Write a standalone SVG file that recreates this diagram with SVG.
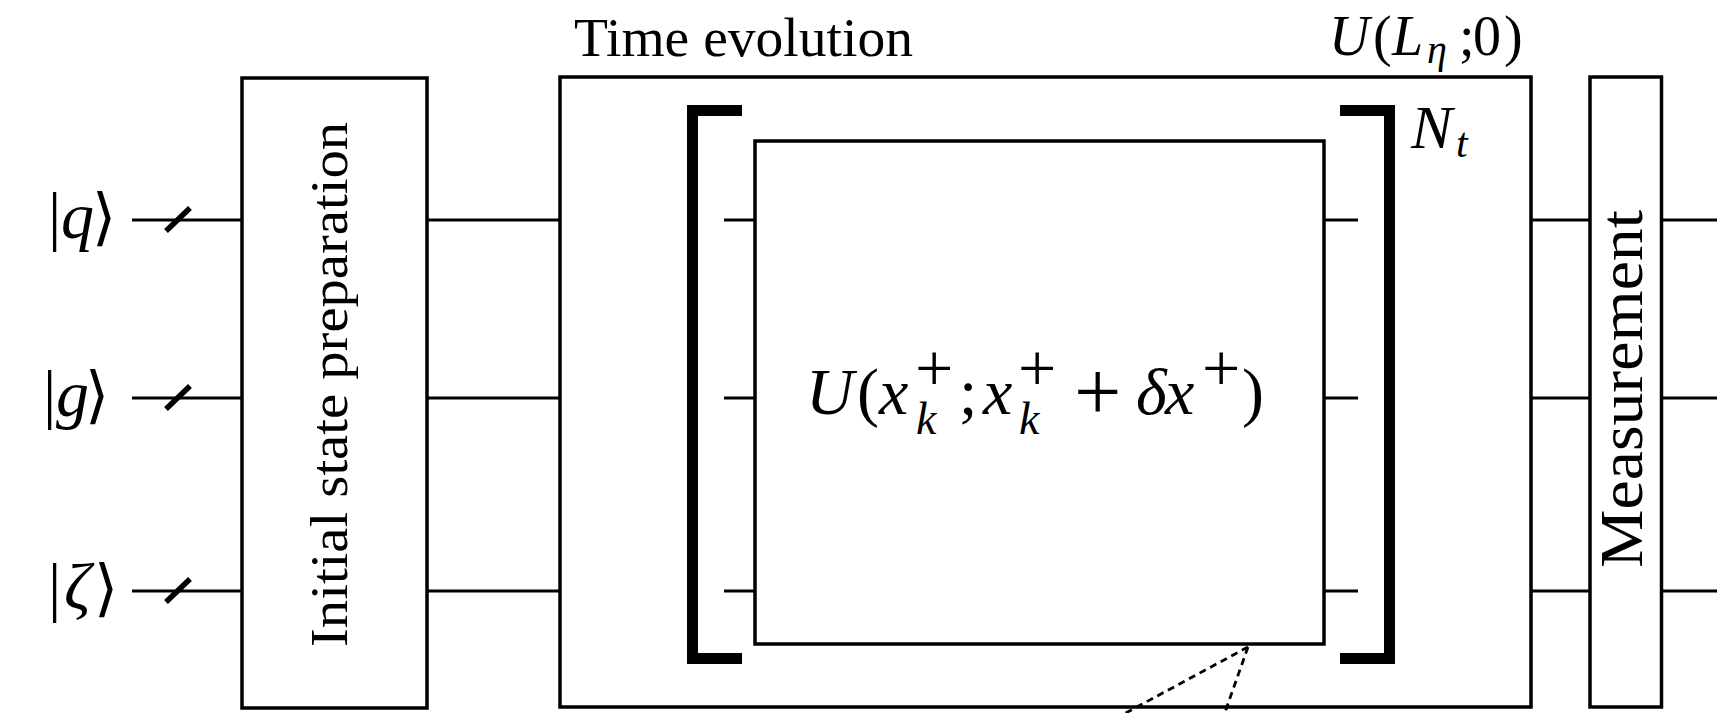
<svg xmlns="http://www.w3.org/2000/svg" width="1727" height="713" viewBox="0 0 1727 713">
<style>
.box{fill:none;stroke:#000;stroke-width:3.5}
.wire{stroke:#000;stroke-width:2.8;fill:none}
.slash{stroke:#000;stroke-width:5.5;stroke-linecap:butt}
.brk{fill:none;stroke:#000;stroke-width:11;stroke-linejoin:miter;stroke-linecap:butt}
.dash{stroke:#000;stroke-width:2.8;stroke-dasharray:7 5;fill:none}
.t{font-family:"Liberation Serif","DejaVu Serif",serif;fill:#000}
.m{font-family:"Liberation Serif","DejaVu Serif",serif;font-style:italic;fill:#000}
</style>
<rect width="1727" height="713" fill="#fff"/>
<g id="connectors">
  <path class="wire" d="M132,220H242M132,398H242M132,591H242"/>
  <path class="wire" d="M427,220H560M427,398H560M427,591H560"/>
  <path class="wire" d="M724,220H755M724,398H755M724,591H755"/>
  <path class="wire" d="M1324,220H1358M1324,398H1358M1324,591H1358"/>
  <path class="wire" d="M1531,220H1590M1531,398H1590M1531,591H1590"/>
  <path class="wire" d="M1661,220H1717M1661,398H1717M1661,591H1717"/>
  <path class="slash" d="M166,231L190,208M166,409L190,386M166,602L190,579"/>
  <path class="dash" d="M1248,647L1122,715M1248,647L1224,715"/>
</g>
<g id="inputs">
  <text class="t" font-size="66" y="238"><tspan x="48">|</tspan><tspan class="m" x="61">q</tspan><tspan x="92" font-family="DejaVu Serif" font-size="62">⟩</tspan></text>
  <text class="t" font-size="66" y="416"><tspan x="43">|</tspan><tspan class="m" x="56">g</tspan><tspan x="85" font-family="DejaVu Serif" font-size="62">⟩</tspan></text>
  <text class="t" font-size="66" y="609"><tspan x="48">|</tspan><tspan class="m" x="64">ζ</tspan><tspan x="94" font-family="DejaVu Serif" font-size="62">⟩</tspan></text>
</g>
<g id="initial-state-preparation">
  <rect class="box" x="242" y="78" width="185" height="630"/>
  <text class="t" font-size="52" text-anchor="middle" transform="translate(347,384.5) rotate(-90)" textLength="525" lengthAdjust="spacingAndGlyphs">Initial state preparation</text>
</g>
<g id="time-evolution">
  <rect class="box" x="560" y="77" width="971" height="630"/>
  <text class="t" font-size="54" x="574" y="56" textLength="339" lengthAdjust="spacingAndGlyphs">Time evolution</text>
  <text class="t" font-size="56" y="55"><tspan class="m" x="1329">U</tspan><tspan x="1373">(</tspan><tspan class="m" x="1392">L</tspan><tspan class="m" x="1427" y="63" font-size="40">η</tspan><tspan x="1459" y="55">;</tspan><tspan x="1473">0</tspan><tspan x="1504">)</tspan></text>
</g>
<g id="repeated-step">
  <path class="brk" d="M742,110.5H692.5V658.5H742"/>
  <path class="brk" d="M1340,110.5H1389.5V658.5H1340"/>
  <text class="m" font-size="62" y="148"><tspan x="1411">N</tspan><tspan x="1456" y="157" font-size="42">t</tspan></text>
</g>
<g id="step-unitary">
  <rect class="box" x="755" y="141" width="569" height="503"/>
  <text class="t" font-size="66" y="414"><tspan class="m" x="806">U</tspan><tspan x="857">(</tspan><tspan class="m" x="879">x</tspan><tspan x="915" y="391" font-size="68">+</tspan><tspan class="m" x="916" y="434" font-size="46">k</tspan><tspan x="959" y="414">;</tspan><tspan class="m" x="983">x</tspan><tspan x="1018" y="391" font-size="68">+</tspan><tspan class="m" x="1019" y="434" font-size="46">k</tspan><tspan x="1074" y="420" font-size="84">+</tspan><tspan class="m" x="1136" y="414">δ</tspan><tspan class="m" x="1165">x</tspan><tspan x="1202" y="391" font-size="68">+</tspan><tspan x="1242" y="414">)</tspan></text>
</g>
<g id="measurement">
  <rect class="box" x="1590" y="77" width="71.5" height="630"/>
  <text class="t" font-size="62" text-anchor="middle" transform="translate(1642,389) rotate(-90)" textLength="358" lengthAdjust="spacingAndGlyphs">Measurement</text>
</g>
</svg>
